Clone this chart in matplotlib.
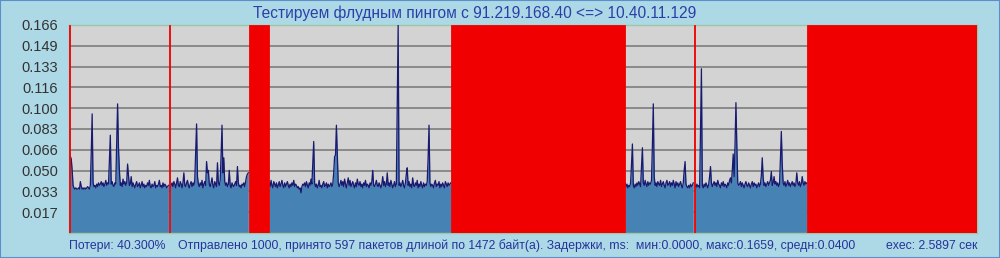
import numpy as np
import matplotlib
matplotlib.use('Agg')
import matplotlib.pyplot as plt
from matplotlib.patches import Rectangle

plt.rcParams['font.family'] = ['Liberation Sans', 'DejaVu Sans']

TITLE = 'Тестируем флудным пингом с 91.219.168.40 <=> 10.40.11.129'
FOOT_LOSS = 'Потери: 40.300%'
FOOT_INFO = ('Отправлено 1000, принято 597 пакетов длиной по 1472 байт(а). '
             'Задержки, ms:  мин:0.0000, макс:0.1659, средн:0.0400')
FOOT_EXEC = 'exec: 2.5897 сек'

N_SENT = 1000
Y_MAX = 0.1659

# lost packets, half-open ranges [start, end)
LOST_RANGES = [(0, 1), (110, 111), (198, 220), (421, 612), (688, 689), (813, 1000)]

# replies, delay in microseconds; (first packet index, values)
SEG_A = (1, [
    61, 59, 50, 38, 36, 35, 36, 35, 35, 36,
    35, 41, 37, 35, 36, 35, 36, 35, 36, 37,
    36, 35, 38, 64, 95, 40, 37, 38, 36, 39,
    37, 40, 38, 39, 41, 38, 40, 37, 39, 42,
    38, 40, 39, 58, 78, 39, 41, 38, 37, 40,
    39, 72, 103, 68, 50, 38, 40, 37, 43, 39,
    41, 38, 40, 55, 46, 38, 39, 45, 37, 40,
    38, 36, 39, 41, 37, 38, 40, 36, 38, 41,
    37, 39, 36, 38, 37, 40, 38, 42, 37, 36,
    39, 37, 38, 41, 36, 38, 37, 39, 42, 37,
    38, 36, 40, 37, 39, 38, 36, 37, 38])
SEG_B = (111, [
    36, 38, 40, 37, 41, 39, 36, 40, 44, 38,
    37, 41, 39, 36, 40, 48, 38, 37, 40, 42,
    38, 36, 39, 41, 37, 40, 38, 42, 65, 87,
    45, 39, 37, 40, 38, 42, 36, 39, 41, 38,
    57, 48, 50, 39, 37, 40, 44, 38, 36, 41,
    39, 37, 56, 40, 38, 42, 62, 86, 48, 60,
    41, 38, 40, 37, 39, 50, 38, 36, 40, 38,
    37, 39, 41, 38, 53, 40, 37, 38, 36, 39,
    38, 40, 37, 41, 45, 47, 48])
SEG_C = (220, [
    40, 37, 42, 38, 36, 41, 39, 37, 40, 36,
    38, 41, 37, 39, 42, 38, 36, 40, 37, 39,
    41, 38, 36, 39, 37, 40, 38, 42, 37, 39,
    38, 36, 37, 35, 36, 32, 37, 39, 38, 40,
    37, 41, 38, 36, 40, 38, 43, 39, 56, 73,
    40, 37, 39, 36, 38, 42, 37, 38, 36, 39,
    41, 37, 38, 40, 36, 39, 37, 38, 40, 37,
    39, 48, 61, 62, 86, 62, 40, 37, 39, 42,
    38, 41, 37, 43, 39, 36, 40, 44, 38, 42,
    37, 39, 41, 38, 36, 40, 37, 43, 39, 38,
    41, 37, 39, 36, 40, 38, 42, 37, 39, 38,
    36, 40, 38, 41, 50, 38, 37, 39, 42, 38,
    37, 40, 38, 36, 39, 45, 38, 41, 37, 39,
    48, 38, 40, 37, 42, 39, 36, 38, 41, 37,
    39, 100, 166, 38, 40, 37, 39, 42, 38, 36,
    40, 47, 52, 38, 41, 37, 39, 36, 44, 38,
    37, 40, 38, 42, 36, 39, 37, 41, 38, 36,
    40, 37, 39, 38, 41, 60, 86, 40, 37, 39,
    38, 36, 40, 42, 37, 39, 38, 41, 36, 39,
    37, 40, 38, 36, 41, 39, 37, 40, 38, 39,
    40])
SEG_D = (612, [
    40, 37, 39, 36, 38, 37, 40, 55, 71, 38,
    36, 39, 37, 40, 38, 41, 39, 37, 53, 68,
    40, 38, 42, 39, 37, 41, 38, 40, 39, 42,
    70, 103, 45, 38, 40, 37, 41, 39, 38, 42,
    37, 39, 41, 38, 36, 40, 42, 38, 39, 41,
    37, 40, 38, 42, 39, 36, 41, 38, 40, 37,
    39, 41, 38, 36, 40, 50, 57, 39, 37, 36,
    38, 36, 39, 37, 38, 40])
SEG_E = (689, [
    38, 36, 39, 37, 38, 36, 82, 131, 38, 36,
    39, 37, 40, 38, 36, 39, 45, 53, 40, 37,
    39, 41, 38, 40, 37, 42, 39, 38, 36, 40,
    38, 41, 37, 39, 38, 36, 40, 38, 42, 44,
    40, 50, 63, 45, 70, 104, 70, 40, 38, 39,
    41, 37, 40, 38, 36, 39, 41, 38, 37, 40,
    38, 36, 39, 41, 37, 40, 38, 39, 36, 38,
    40, 37, 39, 46, 60, 44, 38, 40, 37, 39,
    41, 38, 40, 42, 49, 38, 40, 45, 39, 41,
    38, 40, 37, 39, 59, 81, 55, 40, 38, 41,
    37, 39, 42, 38, 40, 37, 39, 41, 38, 40,
    37, 39, 48, 40, 38, 41, 37, 39, 45, 40,
    38, 41, 39, 40])
SEGMENTS = [SEG_A, SEG_B, SEG_C, SEG_D, SEG_E]

BG = '#add8e6'
PLOT_BG = '#d3d3d3'
FILL = '#4682b4'
LINE = '#191970'
RED = '#f00000'
FOOT = '#24349a'

fig = plt.figure(figsize=(10, 2.58), dpi=100, facecolor=BG)
fig.patches.append(Rectangle((0, 0), 1, 1, transform=fig.transFigure,
                             fill=False, edgecolor='#5b8fcc', linewidth=1.5))
ax = fig.add_axes([0.069, 25 / 258, 0.908, 208 / 258])
ax.set_facecolor(PLOT_BG)

for start, vals in SEGMENTS:
    x = np.arange(start, start + len(vals)) + 0.5
    y = np.array(vals) / 1000.0  # us -> ms
    ax.fill_between(x, 0, y, color=FILL, linewidth=0, zorder=2)
    ax.plot(x, y, color=LINE, linewidth=0.9, zorder=3)

for a, b in LOST_RANGES:
    ax.bar(a, Y_MAX, width=b - a, align='edge', bottom=0, color=RED,
           edgecolor=RED, linewidth=0.6, zorder=4)

ticks = [Y_MAX * k / 10 for k in range(1, 11)]
ax.set_yticks(ticks)
ax.set_yticklabels([f'{t:.3f}' for t in ticks], fontsize=10.5, color='#333333')
ax.tick_params(axis='y', length=0, pad=8)
ax.set_xticks([])
ax.set_xlim(0, N_SENT)
ax.set_ylim(0, Y_MAX)
ax.grid(True, axis='y', color='#8a8a8a', linewidth=1.4, zorder=1)
ax.set_axisbelow(True)
for s in ax.spines.values():
    s.set_color('#9cc8a8')
    s.set_linewidth(1.0)

fig.text(0.475, 1 - 13 / 258, TITLE, ha='center', va='center',
         fontsize=11.2, color='#2b3fa8')
fig.text(0.069, 1 - 246 / 258, FOOT_LOSS, ha='left', va='center',
         fontsize=8.8, color=FOOT)
fig.text(0.178, 1 - 246 / 258, FOOT_INFO, ha='left', va='center',
         fontsize=8.8, color=FOOT)
fig.text(0.978, 1 - 246 / 258, FOOT_EXEC, ha='right', va='center',
         fontsize=8.8, color=FOOT)

fig.savefig('out.png', dpi=100, facecolor=BG)
